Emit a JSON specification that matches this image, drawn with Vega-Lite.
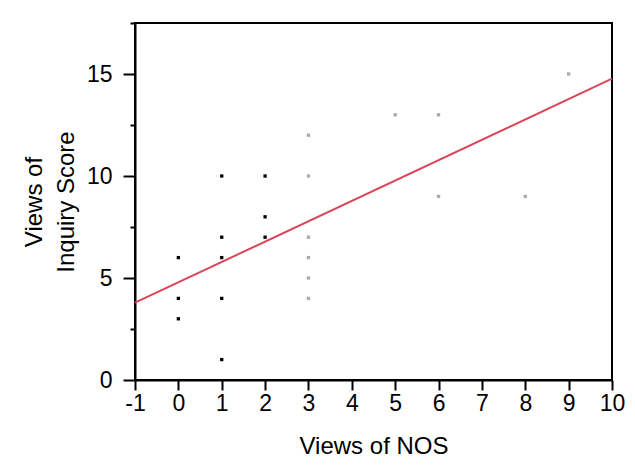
{
  "$schema": "https://vega.github.io/schema/vega-lite/v6.json",
  "width": 477,
  "height": 357,
  "autosize": {"type": "none"},
  "padding": {"left": 135, "top": 23, "right": 23, "bottom": 95},
  "background": "white",
  "config": {
    "font": "Liberation Sans",
    "view": {"stroke": "black", "strokeWidth": 2},
    "axis": {
      "grid": false,
      "domainColor": "black",
      "domainWidth": 2,
      "tickColor": "black",
      "tickWidth": 2,
      "labelFont": "Liberation Sans",
      "labelFontSize": 23,
      "labelColor": "black",
      "titleFont": "Liberation Sans",
      "titleFontSize": 24,
      "titleFontWeight": "normal",
      "titleColor": "black",
      "labelOverlap": false,
      "labelFlush": false
    }
  },
  "datasets": {
    "points": [
      {"nos": 0, "inq": 6, "group": "low"},
      {"nos": 0, "inq": 4, "group": "low"},
      {"nos": 0, "inq": 3, "group": "low"},
      {"nos": 1, "inq": 10, "group": "low"},
      {"nos": 1, "inq": 7, "group": "low"},
      {"nos": 1, "inq": 6, "group": "low"},
      {"nos": 1, "inq": 4, "group": "low"},
      {"nos": 1, "inq": 1, "group": "low"},
      {"nos": 2, "inq": 10, "group": "low"},
      {"nos": 2, "inq": 8, "group": "low"},
      {"nos": 2, "inq": 7, "group": "low"},
      {"nos": 3, "inq": 12, "group": "high"},
      {"nos": 3, "inq": 10, "group": "high"},
      {"nos": 3, "inq": 7, "group": "high"},
      {"nos": 3, "inq": 6, "group": "high"},
      {"nos": 3, "inq": 5, "group": "high"},
      {"nos": 3, "inq": 4, "group": "high"},
      {"nos": 5, "inq": 13, "group": "high"},
      {"nos": 6, "inq": 13, "group": "high"},
      {"nos": 6, "inq": 9, "group": "high"},
      {"nos": 8, "inq": 9, "group": "high"},
      {"nos": 9, "inq": 15, "group": "high"}
    ],
    "fit": [
      {"nos": -1, "inq": 3.79},
      {"nos": 10, "inq": 14.77}
    ]
  },
  "layer": [
    {
      "data": {"name": "points"},
      "mark": {"type": "square", "size": 11, "opacity": 1, "filled": true},
      "encoding": {
        "x": {
          "field": "nos",
          "type": "quantitative",
          "scale": {"domain": [-1, 10], "nice": false, "zero": false},
          "axis": {
            "title": "Views of NOS",
            "values": [-1, 0, 1, 2, 3, 4, 5, 6, 7, 8, 9, 10],
            "labelExpr": "datum.value + ''",
            "tickSize": 10,
            "labelPadding": 2,
            "titlePadding": 19
          }
        },
        "y": {
          "field": "inq",
          "type": "quantitative",
          "scale": {"domain": [0, 17.5], "nice": false, "zero": false},
          "axis": {
            "title": ["Views of", "Inquiry Score"],
            "titleLineHeight": 32,
            "values": [0, 2.5, 5, 7.5, 10, 12.5, 15, 17.5],
            "labelExpr": "datum.value % 5 === 0 ? datum.label : ''",
            "tickSize": {"condition": {"test": "datum.value % 5 === 0", "value": 12}, "value": 5},
            "labelPadding": 11,
            "titlePadding": 8
          }
        },
        "color": {
          "field": "group",
          "type": "nominal",
          "scale": {"domain": ["low", "high"], "range": ["#000000", "#aaaaaa"]},
          "legend": null
        }
      }
    },
    {
      "data": {"name": "fit"},
      "mark": {"type": "line", "color": "#d9465a", "strokeWidth": 2},
      "encoding": {
        "x": {"field": "nos", "type": "quantitative"},
        "y": {"field": "inq", "type": "quantitative"}
      }
    }
  ]
}
